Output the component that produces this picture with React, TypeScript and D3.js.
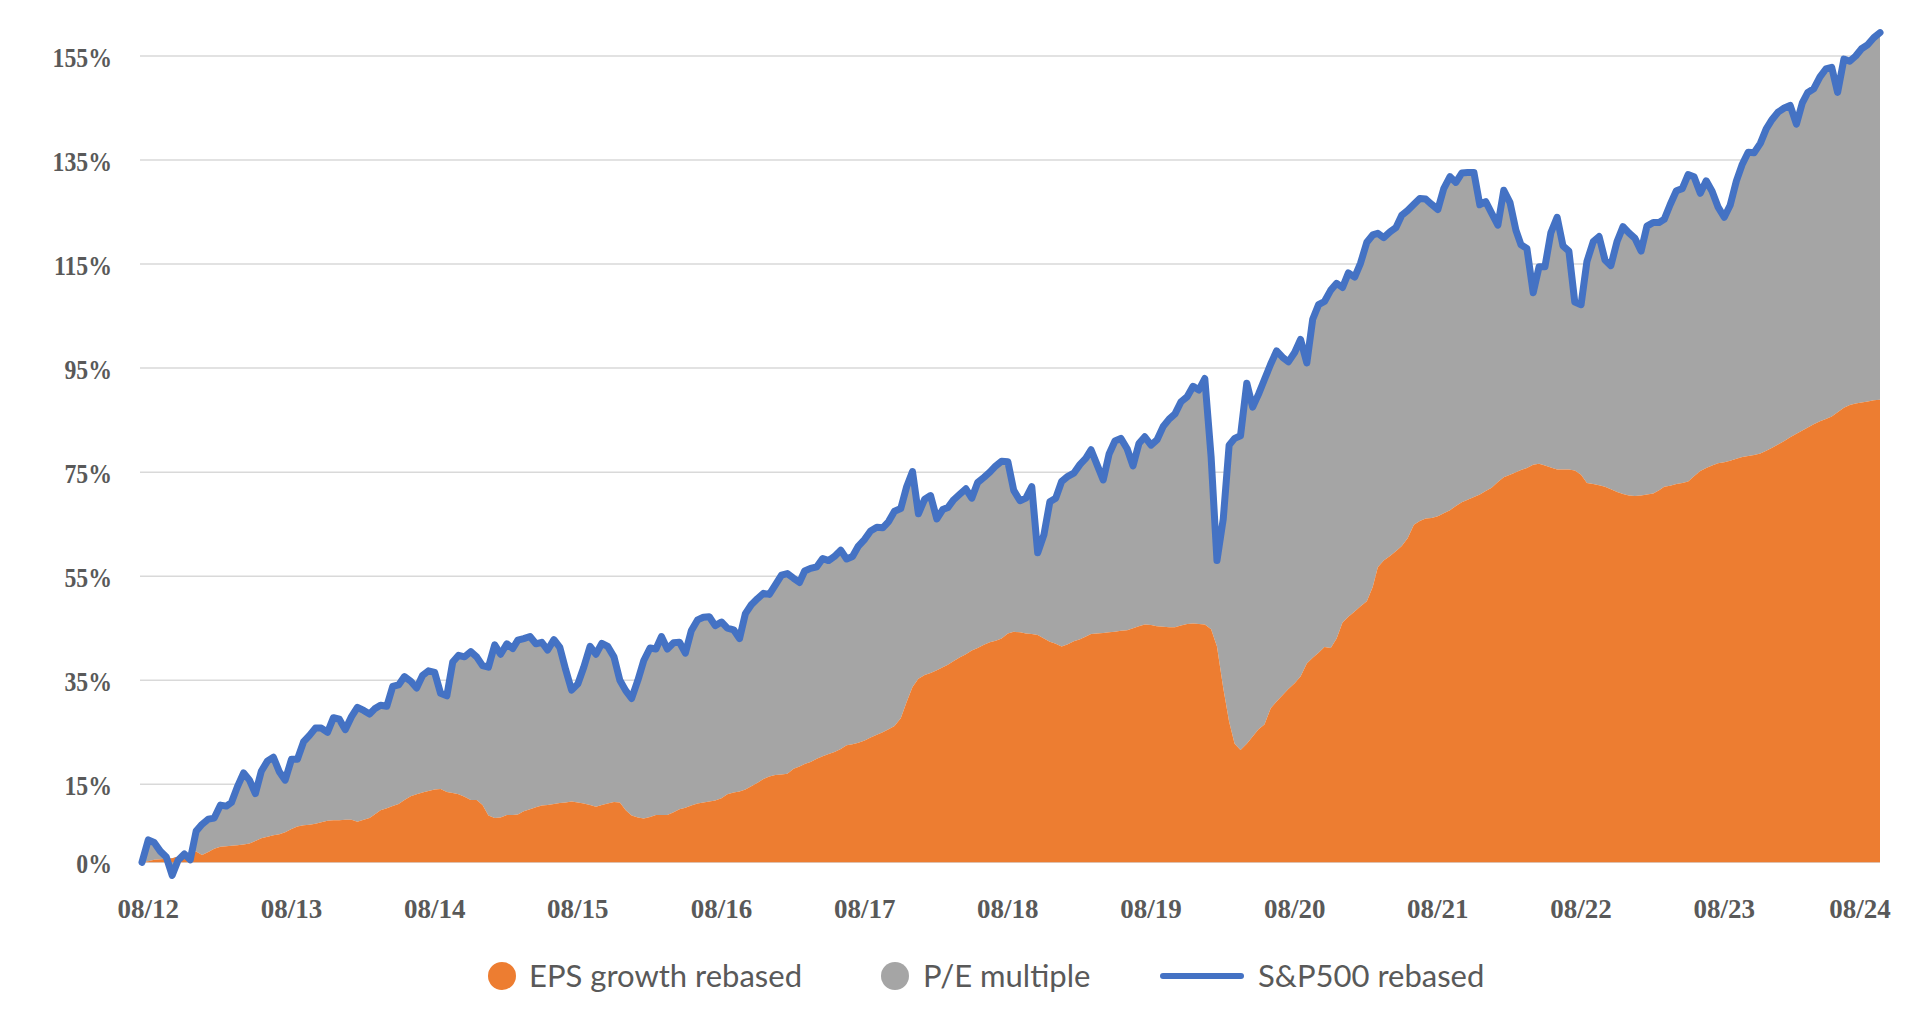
import React from 'react';
import * as d3 from 'd3';

// S&P 500 rebased (%), semi-monthly observations from mid-July 2012 to Sep 2024
const spRebased: number[] = [
  0, 4.3, 3.8, 2.1, 1.0, -2.5, 0.4, 1.6, 0.5, 6.0,
  7.3, 8.3, 8.5, 11, 10.8, 11.5, 14.5, 17.2, 15.8, 13.2,
  17.5, 19.5, 20.2, 17.4, 15.8, 19.8, 19.8, 23.2, 24.4, 25.8,
  25.8, 25, 27.8, 27.5, 25.5, 28, 29.8, 29.2, 28.5, 29.5,
  30.2, 30, 33.8, 34.1, 35.7, 34.8, 33.5, 35.9, 36.8, 36.5,
  32.5, 32, 38.5, 39.8, 39.5, 40.5, 39.5, 37.8, 37.5, 41.8,
  40, 42, 41.1, 42.7, 43, 43.4, 42, 42.3, 40.8, 42.8,
  41.3, 37, 33.1, 34.3, 37.5, 41.5, 40, 42.1, 41.5, 39.5,
  35, 33, 31.5, 35, 38.8, 41.2, 41, 43.4, 41, 42.2,
  42.3, 40.2, 44.5, 46.6, 47.1, 47.2, 45.5, 46.2, 45, 44.7,
  43, 47.8, 49.5, 50.7, 51.7, 51.5, 53.3, 55.2, 55.5, 54.6,
  53.8, 56, 56.5, 56.8, 58.4, 58, 58.8, 60, 58.3, 58.8,
  60.8, 62.1, 63.7, 64.4, 64.3, 65.5, 67.5, 68, 72.2, 75.1,
  67, 69.8, 70.5, 66, 67.8, 68.2, 69.7, 70.8, 71.8, 70,
  73, 74, 75, 76.2, 77.1, 77, 71.5, 69.5, 70, 72.2,
  59.5, 63, 69.3, 70, 73.2, 74.2, 74.8, 76.5, 77.7, 79.3,
  76.5, 73.5, 78.5, 81, 81.5, 79.5, 76.2, 80.5, 81.8, 80.2,
  81.2, 83.8, 85.2, 86.2, 88.5, 89.5, 91.5, 90.8, 93, 78,
  58, 66, 80.2, 81.5, 82, 92.1, 87.5, 90, 92.8, 95.8,
  98.3, 97.1, 96.2, 98, 100.5, 96, 104.4, 107.2, 107.8, 110,
  111.3, 110.5, 113.3, 112.5, 115.2, 119.2, 120.6, 120.9, 120.1, 121.2,
  122, 124.4, 125.3, 126.5, 127.6, 127.5, 126.5, 125.5, 129.5, 131.8,
  130.7, 132.5, 132.6, 132.6, 126.4, 127, 124.8, 122.5, 129.2, 126.8,
  121.5, 118.7, 118, 109.5, 114.5, 114.5, 121, 124, 118.5, 117.5,
  107.7, 107.2, 115.5, 119.3, 120.3, 115.8, 114.7, 119.4, 122.2, 121,
  120, 117.5, 122.3, 123, 123, 123.6, 126.4, 129.1, 129.5, 132.2,
  131.8, 128.6, 131, 129, 126, 124, 126.3, 131, 134.2, 136.5,
  136.4, 138.2, 141, 142.8, 144.2, 145, 145.5, 141.9, 146, 148,
  148.7, 151, 152.5, 152.8, 148, 154.4, 154, 155, 156.4, 157.2,
  158.5, 159.5,
];

// EPS growth rebased (%), same observation dates
const epsRebased: number[] = [
  0, 0.2, 0.5, 0.6, 0.7, 0.8, 1.1, 1.5, 1.8, 2.1,
  1.4, 2.0, 2.6, 3.0, 3.1, 3.2, 3.3, 3.4, 3.6, 4.1,
  4.6, 4.9, 5.2, 5.4, 5.8, 6.4, 6.9, 7.1, 7.2, 7.4,
  7.7, 8.0, 8.1, 8.1, 8.2, 8.2, 7.8, 8.2, 8.5, 9.2,
  10.0, 10.4, 10.8, 11.2, 12.0, 12.7, 13.1, 13.4, 13.7, 14.0,
  14.1, 13.5, 13.3, 13.1, 12.6, 12.0, 12.0, 11.0, 9.0, 8.5,
  8.6, 9.1, 9.1, 9.2, 9.8, 10.2, 10.6, 10.9, 11.0, 11.2,
  11.4, 11.5, 11.7, 11.5, 11.3, 11.0, 10.7, 11.0, 11.3, 11.6,
  11.5, 10.0, 9.0, 8.6, 8.4, 8.7, 9.1, 9.1, 9.1, 9.6,
  10.2, 10.5, 10.9, 11.3, 11.5, 11.7, 11.9, 12.3, 13.1, 13.4,
  13.6, 14.0, 14.6, 15.3, 16.0, 16.5, 16.8, 16.9, 17.0, 18.0,
  18.4, 18.9, 19.3, 19.9, 20.4, 20.8, 21.2, 21.8, 22.5, 22.7,
  23.0, 23.4, 24.0, 24.5, 25.0, 25.6, 26.2, 27.7, 30.8, 33.7,
  35.3, 36.0, 36.4, 36.9, 37.5, 38.0, 38.7, 39.4, 40.0, 40.7,
  41.2, 41.8, 42.3, 42.6, 43.0, 44.0, 44.3, 44.2, 44.0, 43.9,
  43.7, 43.0, 42.4, 42.0, 41.5, 41.9, 42.5, 42.9, 43.4, 43.9,
  44.0, 44.1, 44.2, 44.3, 44.5, 44.6, 45.0, 45.4, 45.7, 45.6,
  45.4, 45.3, 45.2, 45.2, 45.5, 45.8, 45.9, 45.8, 45.7, 44.8,
  41.5, 33.5, 27.0, 22.8, 21.6, 22.8, 24.2, 25.6, 26.5, 29.6,
  30.9, 32.1, 33.3, 34.4, 35.7, 38.2, 39.3, 40.3, 41.4, 41.2,
  43.0, 46.1, 47.2, 48.2, 49.2, 50.2, 52.9, 56.7, 58.0, 58.9,
  59.8, 60.8, 62.3, 64.9, 65.6, 66.1, 66.2, 66.5, 67.1, 67.7,
  68.5, 69.2, 69.7, 70.2, 70.7, 71.4, 72.0, 73.1, 74.0, 74.5,
  75.0, 75.4, 75.8, 76.4, 76.6, 76.3, 75.9, 75.5, 75.5, 75.5,
  75.3, 74.5, 72.9, 72.7, 72.5, 72.2, 71.7, 71.2, 70.8, 70.5,
  70.4, 70.5, 70.7, 70.9, 71.5, 72.2, 72.4, 72.7, 72.9, 73.2,
  74.2, 75.2, 75.8, 76.3, 76.7, 76.9, 77.2, 77.6, 77.9, 78.1,
  78.3, 78.6, 79.1, 79.7, 80.3, 81.0, 81.7, 82.4, 83.0, 83.6,
  84.2, 84.8, 85.2, 85.7, 86.5, 87.4, 87.9, 88.2, 88.4, 88.6,
  88.8, 88.9,
];

const yTicks: number[] = [0, 15, 35, 55, 75, 95, 115, 135, 155];
const xTickYears: number[] = [2012, 2013, 2014, 2015, 2016, 2017, 2018, 2019, 2020, 2021, 2022, 2023, 2024];
const xTickLabels: string[] = ['08/12', '08/13', '08/14', '08/15', '08/16', '08/17', '08/18', '08/19', '08/20', '08/21', '08/22', '08/23', '08/24'];
const seriesNames: string[] = ['EPS growth rebased', 'P/E multiple', 'S&P500 rebased'];

const ORANGE = '#ED7D31';
const GREY = '#A5A5A5';
const BLUE = '#4472C4';
const TEXT = '#595959';
const GRID = '#D9D9D9';

// observation dates: 16th and 1st of each month starting 16 Jul 2012
const obsDate = (k: number): Date =>
  k % 2 === 0 ? new Date(2012, 6 + k / 2, 16) : new Date(2012, 6 + (k + 1) / 2, 1);

type Row = { date: Date; eps: number; pe: number; sp: number };
const rows: Row[] = spRebased.map((sp, k) => ({
  date: obsDate(k),
  eps: epsRebased[k],
  pe: sp - epsRebased[k],
  sp,
}));

export default function App() {
  const W = 1920;
  const H = 1021;
  const plotRight = 1880;
  const x = d3
    .scaleTime()
    .domain([obsDate(0), obsDate(rows.length - 1)])
    .range([142, plotRight]);
  const y = d3.scaleLinear().domain([0, 155]).range([862.3, 56]);

  const stack = d3.stack<Row>().keys(['eps', 'pe']).order(d3.stackOrderNone).offset(d3.stackOffsetNone);
  const layers = stack(rows);
  const area = d3
    .area<d3.SeriesPoint<Row>>()
    .x((d) => x(d.data.date))
    .y0((d) => y(d[0]))
    .y1((d) => y(d[1]));
  const line = d3
    .line<Row>()
    .x((d) => x(d.date))
    .y((d) => y(d.sp));

  const serif = '"Liberation Serif", "DejaVu Serif", serif';
  const sans = 'Lato, "Noto Sans", sans-serif';
  const labelHalf = 33;

  return (
    <svg
      width={W}
      height={H}
      style={{ position: 'absolute', left: 0, top: 0, display: 'block', background: '#fff' }}
    >
      {yTicks.map((t) => (
        <line key={'g' + t} x1={140} x2={plotRight} y1={y(t)} y2={y(t)} stroke={GRID} strokeWidth={1.5} />
      ))}
      <path d={area(layers[1]) || ''} fill={GREY} />
      <path d={area(layers[0]) || ''} fill={ORANGE} />
      <path
        d={line(rows) || ''}
        fill="none"
        stroke={BLUE}
        strokeWidth={7}
        strokeLinejoin="round"
        strokeLinecap="round"
      />
      {yTicks.map((t) => (
        <text
          key={'yl' + t}
          transform={`translate(112, ${y(t) + 10.5}) scale(0.88, 1)`}
          textAnchor="end"
          fontFamily={serif}
          fontWeight="bold"
          fontSize={27}
          fill={TEXT}
        >
          {t + '%'}
        </text>
      ))}
      {xTickYears.map((yr, i) => (
        <text
          key={'xl' + yr}
          x={Math.min(x(new Date(yr, 7, 1)), plotRight + 13 - labelHalf)}
          y={918}
          textAnchor="middle"
          fontFamily={serif}
          fontWeight="bold"
          fontSize={27}
          fill={TEXT}
        >
          {xTickLabels[i]}
        </text>
      ))}
      <g fontFamily={sans} fontSize={31} fill={TEXT}>
        <circle cx={502} cy={976} r={14} fill={ORANGE} />
        <text x={529} y={987}>{seriesNames[0]}</text>
        <circle cx={895} cy={976} r={14} fill={GREY} />
        <text x={923} y={987}>{seriesNames[1]}</text>
        <line x1={1163} x2={1241} y1={976} y2={976} stroke={BLUE} strokeWidth={6} strokeLinecap="round" />
        <text x={1258} y={987}>{seriesNames[2]}</text>
      </g>
    </svg>
  );
}
